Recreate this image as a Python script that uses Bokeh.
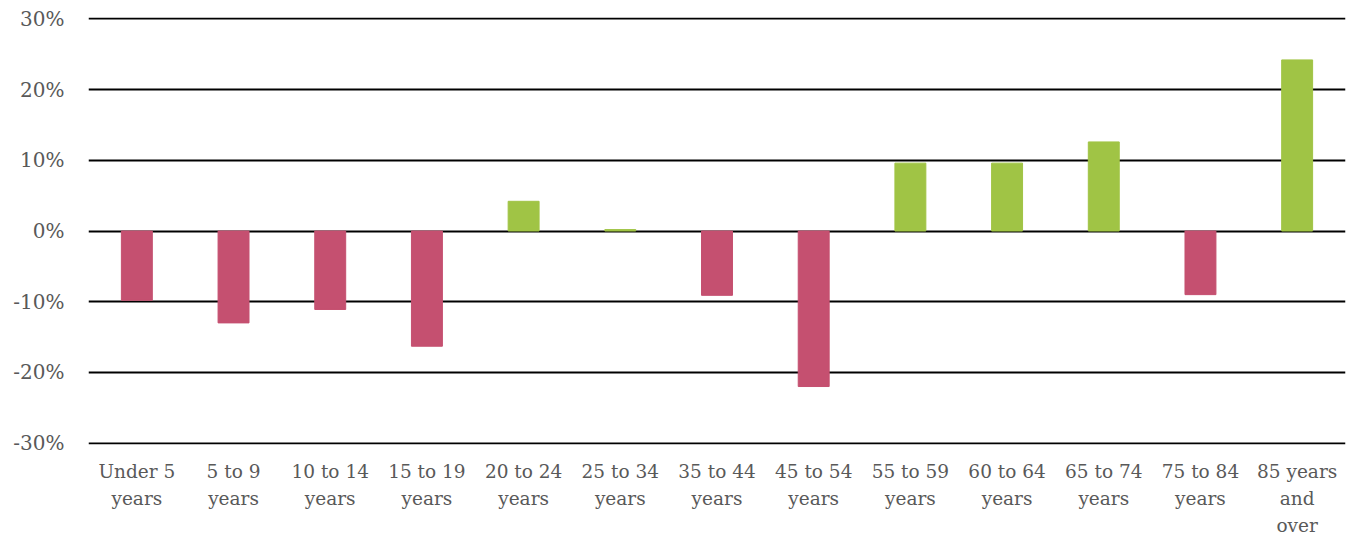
from bokeh.plotting import figure
from bokeh.models import ColumnDataSource, FixedTicker, CustomJSTickFormatter, Range1d
from bokeh.embed import file_html
from bokeh.resources import INLINE

categories = ["Under 5\nyears", "5 to 9\nyears", "10 to 14\nyears", "15 to 19\nyears",
              "20 to 24\nyears", "25 to 34\nyears", "35 to 44\nyears", "45 to 54\nyears",
              "55 to 59\nyears", "60 to 64\nyears", "65 to 74\nyears", "75 to 84\nyears",
              "85 years\nand\nover"]
values = [-9.8, -13.0, -11.1, -16.3, 4.2, 0.2, -9.1, -22.0, 9.6, 9.6, 12.6, -9.0, 24.2]
y_ticks = [-30, -20, -10, 0, 10, 20, 30]

PINK = "#C55070"
GREEN = "#A0C445"
colors = [GREEN if v >= 0 else PINK for v in values]

src = ColumnDataSource(dict(cat=categories, val=values, color=colors))

p = figure(x_range=categories, y_range=Range1d(-30.2, 30.2), width=1357, height=541,
           output_backend="svg", toolbar_location=None,
           min_border_left=88, min_border_right=12, min_border_top=17, min_border_bottom=97)
p.outline_line_color = None
p.vbar(x="cat", top="val", bottom=0, width=0.32, color="color", source=src)

FONT = "DejaVu Serif"
GRAY = "#595959"
p.xgrid.grid_line_color = None
p.ygrid.grid_line_color = "#000000"
p.ygrid.grid_line_width = 2
p.yaxis.ticker = FixedTicker(ticks=y_ticks)
p.yaxis.formatter = CustomJSTickFormatter(code="return tick + '%';")
for ax in (p.xaxis, p.yaxis):
    ax.axis_line_color = None
    ax.major_tick_line_color = None
    ax.minor_tick_line_color = None
    ax.major_label_text_font = FONT
    ax.major_label_text_color = GRAY
p.yaxis.major_label_text_font_size = "20px"
p.yaxis.major_label_standoff = 18
p.xaxis.major_label_text_font_size = "18.5px"
p.xaxis.major_label_text_line_height = 1.3
p.xaxis.major_label_standoff = 10

open("out.html", "w").write(file_html(p, INLINE))
